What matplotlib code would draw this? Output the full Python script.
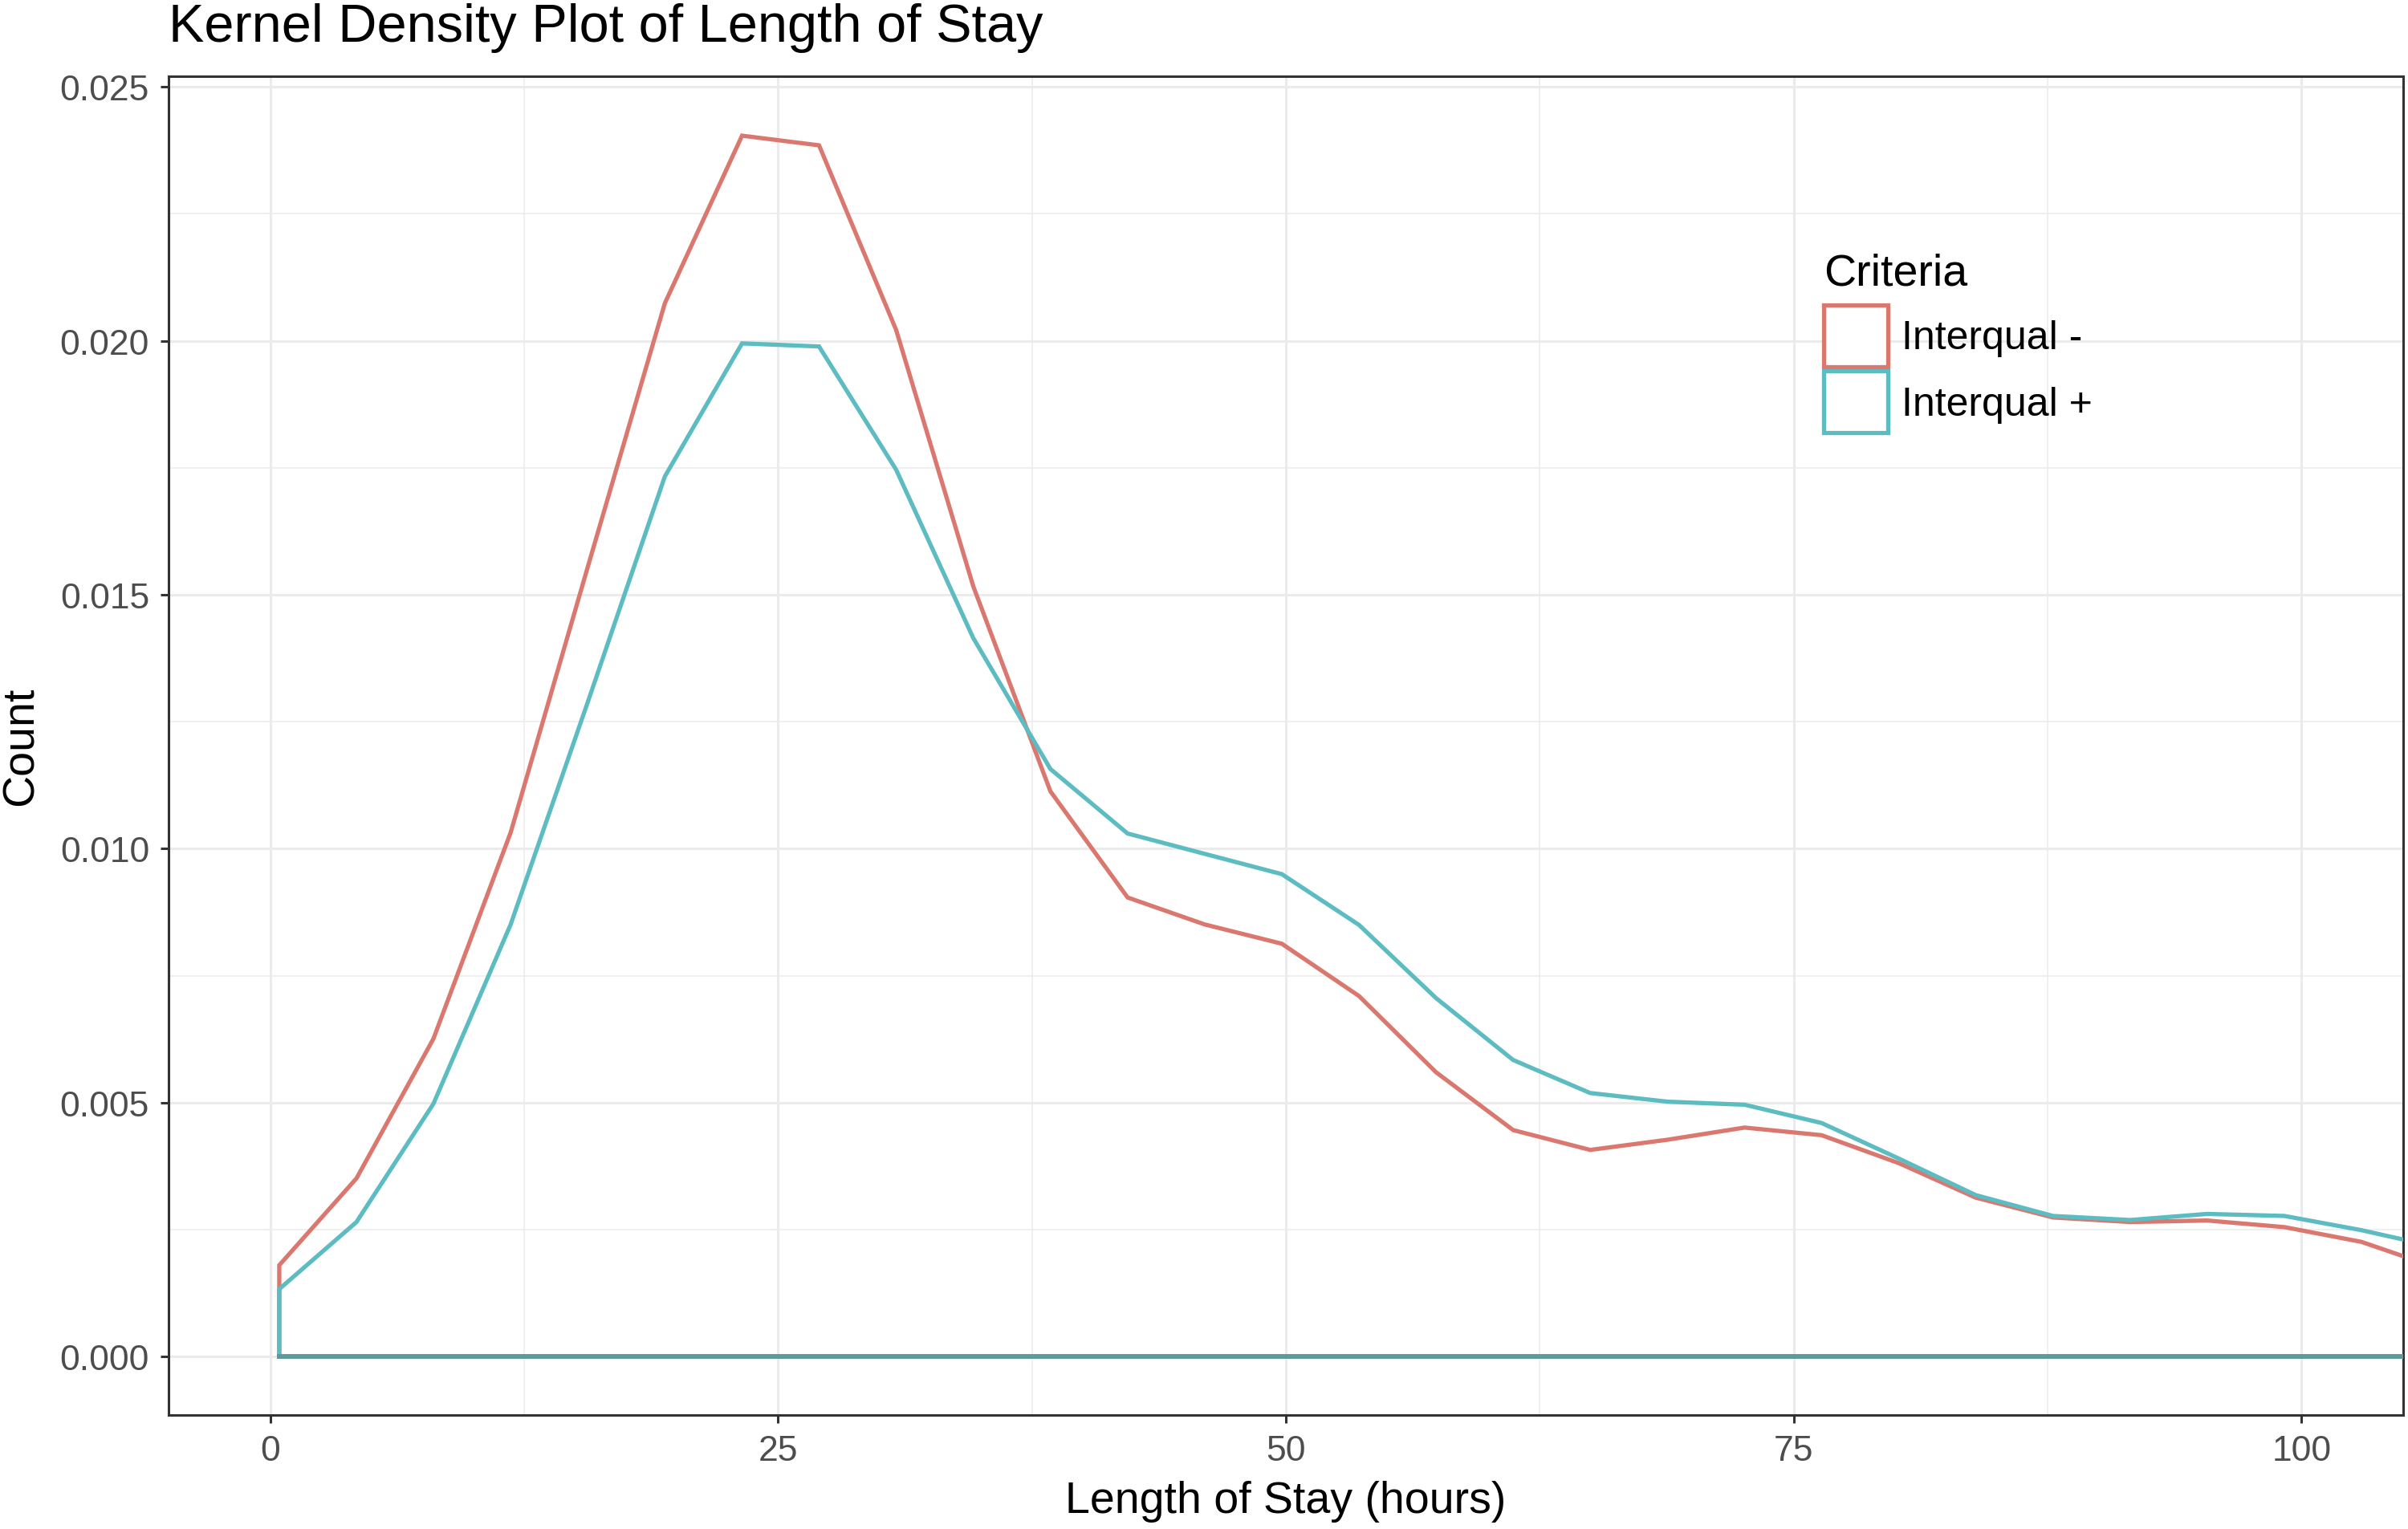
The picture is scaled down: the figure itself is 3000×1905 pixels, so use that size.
import matplotlib
matplotlib.use("Agg")
import matplotlib.pyplot as plt
from matplotlib.patches import Patch
from matplotlib.ticker import MultipleLocator

# ---- data ----
los_hours = [0.45, 4.25, 8.04, 11.84, 15.63, 19.43, 23.23, 27.02, 30.82, 34.61,
             38.41, 42.21, 46.00, 49.80, 53.60, 57.39, 61.19, 64.98, 68.78, 72.58,
             76.37, 80.17, 83.96, 87.76, 91.56, 95.35, 99.15, 102.94, 106.74]
density_minus = [0.00180, 0.00351, 0.00626, 0.01032, 0.01554, 0.02074, 0.02404, 0.02385,
                 0.02021, 0.01517, 0.01113, 0.00904, 0.00851, 0.00813, 0.00710, 0.00560,
                 0.00446, 0.00407, 0.00427, 0.00451, 0.00436, 0.00381, 0.00313, 0.00274,
                 0.00265, 0.00268, 0.00255, 0.00226, 0.00174]
density_plus = [0.00133, 0.00265, 0.00498, 0.00851, 0.01288, 0.01733, 0.01995, 0.01989,
                0.01746, 0.01415, 0.01157, 0.01030, 0.00990, 0.00950, 0.00850, 0.00706,
                0.00584, 0.00519, 0.00502, 0.00496, 0.00460, 0.00390, 0.00318, 0.00277,
                0.00269, 0.00281, 0.00277, 0.00249, 0.00215]
series_labels = ["Interqual -", "Interqual +"]
series_colors = ["#DA786F", "#5CBCC1"]
x_ticks = [0, 25, 50, 75, 100]
y_ticks = [0.000, 0.005, 0.010, 0.015, 0.020, 0.025]

plt.rcParams['font.family'] = ['Liberation Sans', 'DejaVu Sans']

W, H = 3000, 1906
dpi = 200
fig = plt.figure(figsize=(W / dpi, H / dpi), dpi=dpi)
fig.patch.set_facecolor('white')

L, R, T, B = 210, 2994, 96, 1764
ax = fig.add_axes([L / W, 1 - B / H, (R - L) / W, (B - T) / H])

# density outlines drawn as closed polygons (like geom_density)
for yv, col in zip([density_minus, density_plus], series_colors):
    px = [los_hours[0]] + los_hours + [los_hours[-1], los_hours[0]]
    py = [0.0] + yv + [0.0, 0.0]
    ax.plot(px, py, color=col, lw=1.9, solid_joinstyle='miter', zorder=3)
# overlapping baseline of both outlines
ax.plot([los_hours[0], los_hours[-1]], [0, 0], color="#5E999D", lw=2.1, zorder=4)

ax.set_xlim(-5, 105)
ax.set_ylim(-0.00115, 0.02521)
ax.set_xticks(x_ticks)
ax.set_yticks(y_ticks)
ax.set_xticklabels([str(v) for v in x_ticks])
ax.set_yticklabels([f"{v:.3f}" for v in y_ticks])
ax.xaxis.set_minor_locator(MultipleLocator(12.5))
ax.yaxis.set_minor_locator(MultipleLocator(0.0025))

ax.grid(which='major', color='#EBEBEB', lw=1.1, zorder=0)
ax.grid(which='minor', color='#EBEBEB', lw=0.55, zorder=0)
ax.set_axisbelow(True)
for s in ax.spines.values():
    s.set_color('#333333')
    s.set_linewidth(1.1)

ax.tick_params(which='major', length=3.6, width=1.1, color='#333333',
               labelsize=16, labelcolor='#4D4D4D', pad=5)
ax.tick_params(which='minor', length=0)

ax.set_xlabel("Length of Stay (hours)", fontsize=20, color='black')
ax.set_ylabel("Count", fontsize=20, color='black')
ax.xaxis.set_label_coords(0.5, (B - 1871) / (B - T))
ax.xaxis.label.set_va('center')
ax.yaxis.set_label_coords((27 - L) / (R - L), 0.5)
ax.yaxis.label.set_va('center')

fig.text(L / W, 1 - 52 / H, "Kernel Density Plot of Length of Stay",
         fontsize=24, color='black', ha='left', va='baseline')

handles = [Patch(facecolor='white', edgecolor=c, lw=1.9) for c in series_colors]
leg = ax.legend(handles, series_labels, title="Criteria", loc='upper left',
                bbox_to_anchor=(2272 / W, 1 - 315 / H), bbox_transform=fig.transFigure,
                frameon=False, borderpad=0, borderaxespad=0, fontsize=18,
                title_fontsize=20, handlelength=1.6, handleheight=2.0,
                handletextpad=0.34, labelspacing=0.1, alignment='left')
leg._legend_box.sep = 5.0

fig.savefig("out.png", dpi=dpi, facecolor='white')
